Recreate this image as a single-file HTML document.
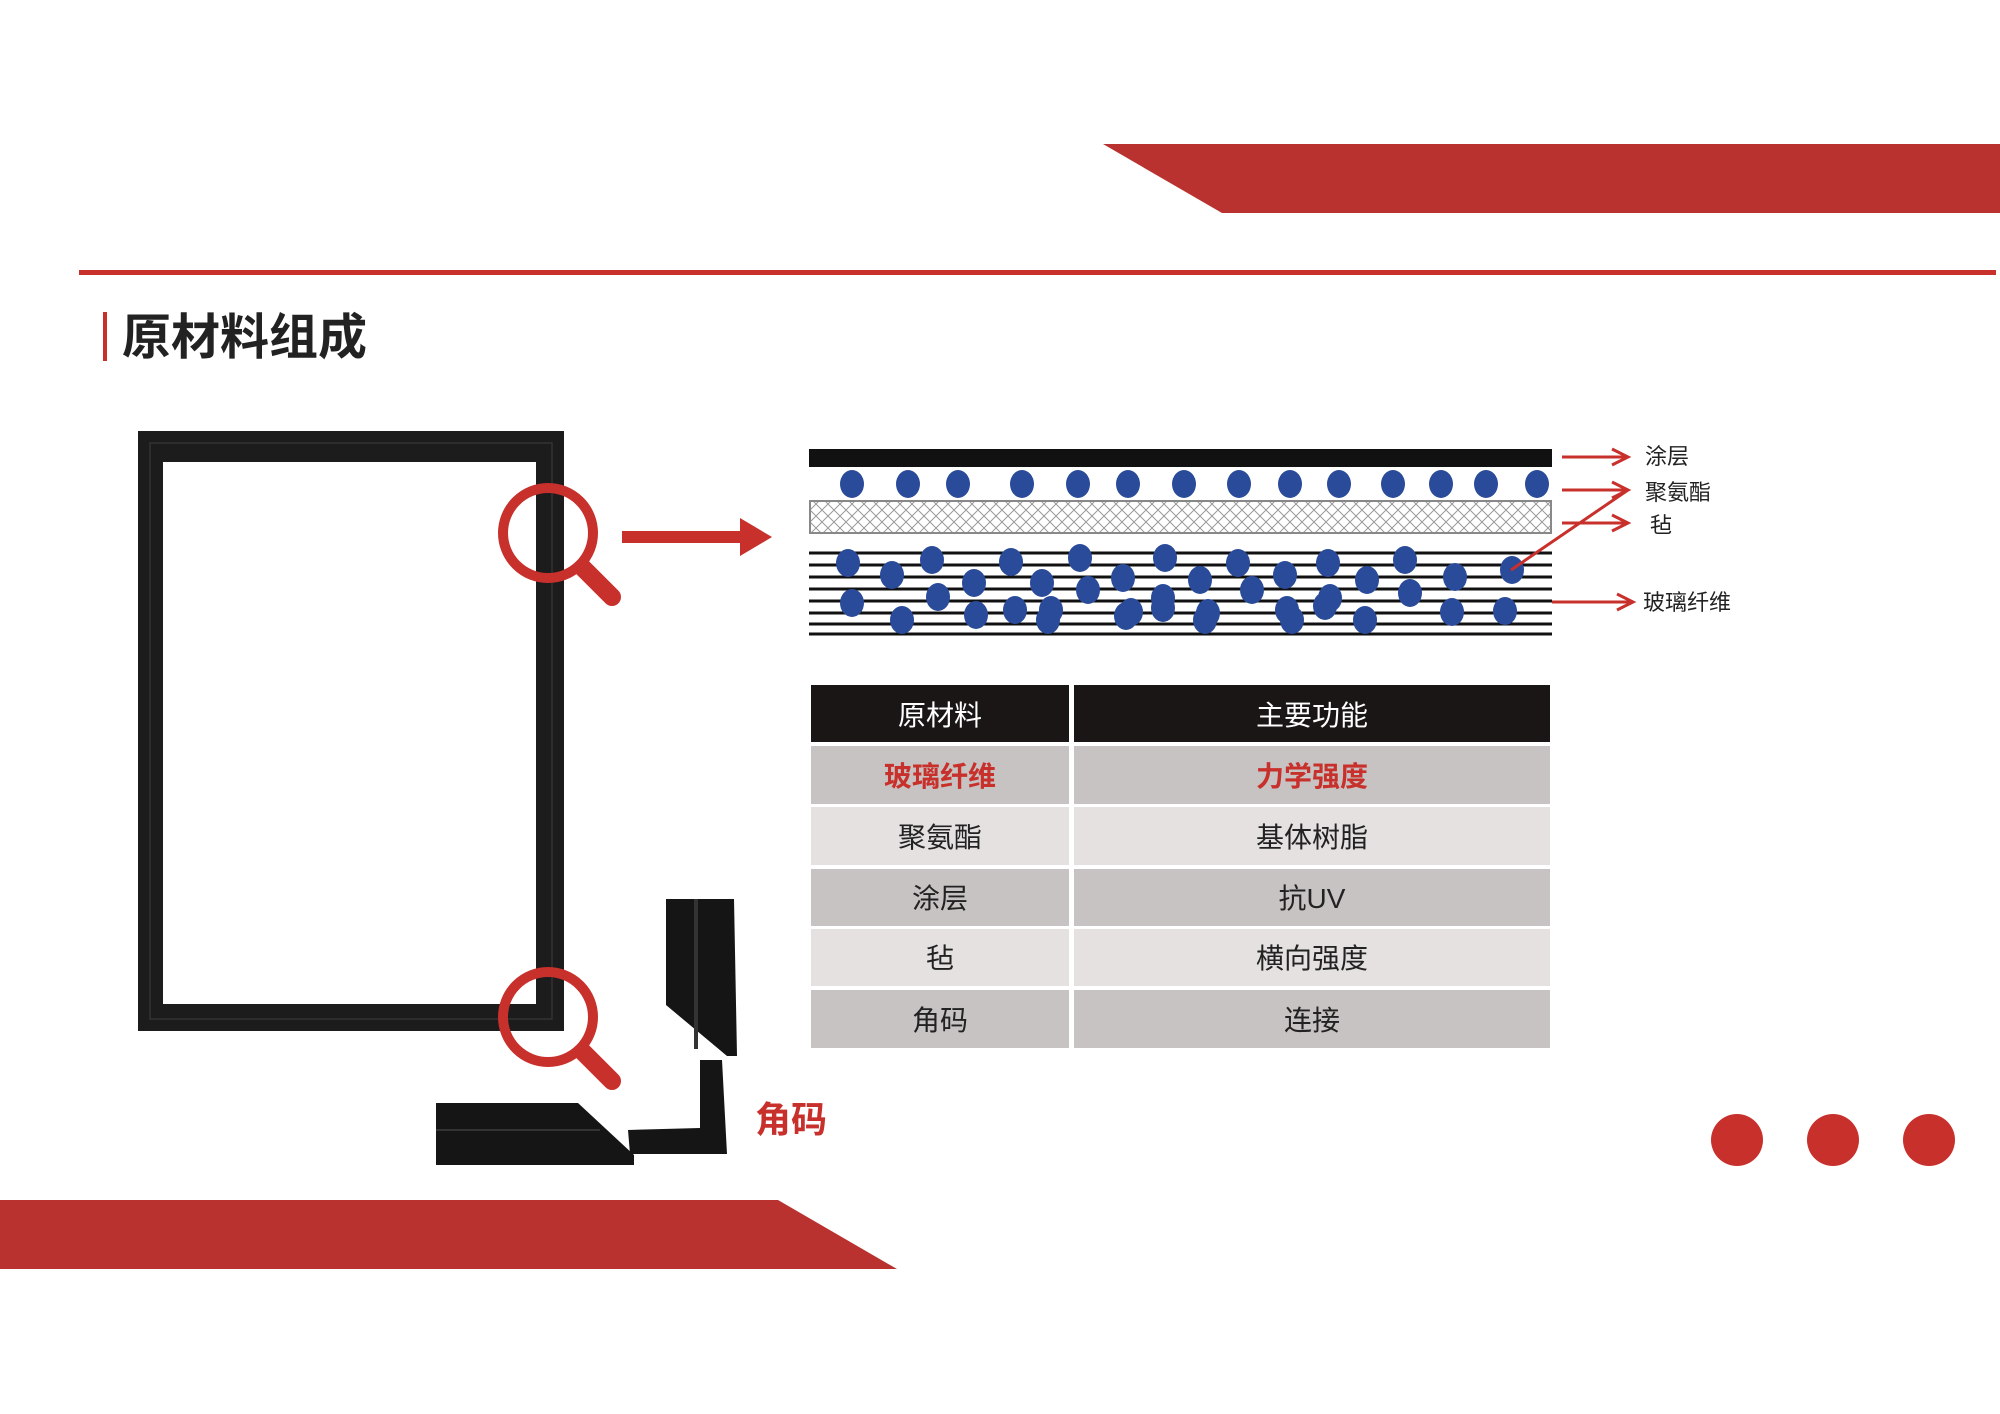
<!DOCTYPE html>
<html><head><meta charset="utf-8"><style>
html,body{margin:0;padding:0;background:#fff}
svg{display:block}
text{font-family:"Liberation Sans","Noto Sans CJK SC",sans-serif}
</style></head><body>
<svg width="2000" height="1414" viewBox="0 0 2000 1414" xmlns="http://www.w3.org/2000/svg">
<defs>
<pattern id="mesh" width="12" height="12" patternUnits="userSpaceOnUse">
<path d="M0 0L12 12M12 0L0 12" stroke="#9a9a9a" stroke-width="1"/>
</pattern>
<ellipse id="ov" rx="12" ry="14" fill="#2a4a9a"/>
</defs>
<polygon points="1103,144 2000,144 2000,213 1222,213" fill="#b93230"/>
<rect x="79" y="270" width="1917" height="5" fill="#c8302c"/>
<rect x="103" y="312" width="4" height="49" fill="#c8302c"/>
<text x="122" y="354" font-size="49" font-weight="bold" fill="#222">原材料组成</text>

<rect x="138" y="431" width="426" height="600" fill="#1c1c1c"/>
<rect x="163" y="462" width="373" height="542" fill="#fff"/>
<rect x="150" y="443" width="402" height="576" fill="none" stroke="#333" stroke-width="1.5"/>
<g fill="none" stroke="#c8302c">
<circle cx="548" cy="533" r="45" stroke-width="10"/>
<line x1="583" y1="568" x2="612" y2="597" stroke-width="18" stroke-linecap="round"/>
<circle cx="548" cy="1017" r="45" stroke-width="10"/>
<line x1="583" y1="1052" x2="612" y2="1081" stroke-width="18" stroke-linecap="round"/>
</g>
<rect x="622" y="531" width="120" height="12" fill="#c8302c"/>
<polygon points="740,518 772,537 740,556" fill="#c8302c"/>

<polygon points="666,899 734,899 737,1056 727,1056 666,1005" fill="#151515"/>
<rect x="694" y="899" width="4" height="150" fill="#333"/>
<polygon points="700,1060 722,1060 727,1154 630,1154 628,1130 700,1128" fill="#151515"/>
<polygon points="436,1103 578,1103 634,1155 634,1165 436,1165" fill="#151515"/>
<line x1="436" y1="1130" x2="600" y2="1130" stroke="#333" stroke-width="2"/>
<text x="755" y="1132" font-size="36" font-weight="bold" fill="#c8302c">角码</text>

<rect x="809" y="449" width="743" height="18" fill="#111"/>
<g>
<use href="#ov" x="852" y="484"/><use href="#ov" x="908" y="484"/><use href="#ov" x="958" y="484"/><use href="#ov" x="1022" y="484"/><use href="#ov" x="1078" y="484"/><use href="#ov" x="1128" y="484"/><use href="#ov" x="1184" y="484"/><use href="#ov" x="1239" y="484"/><use href="#ov" x="1290" y="484"/><use href="#ov" x="1339" y="484"/><use href="#ov" x="1393" y="484"/><use href="#ov" x="1441" y="484"/><use href="#ov" x="1486" y="484"/><use href="#ov" x="1537" y="484"/>
</g>
<rect x="810" y="501" width="741" height="32" fill="url(#mesh)" stroke="#888" stroke-width="2"/>
<g stroke="#111" stroke-width="3">
<line x1="809" y1="553" x2="1552" y2="553"/><line x1="809" y1="565" x2="1552" y2="565"/><line x1="809" y1="577" x2="1552" y2="577"/><line x1="809" y1="589" x2="1552" y2="589"/><line x1="809" y1="601" x2="1552" y2="601"/><line x1="809" y1="613" x2="1552" y2="613"/><line x1="809" y1="624" x2="1552" y2="624"/><line x1="809" y1="634" x2="1552" y2="634"/>
</g>
<g>
<use href="#ov" x="848" y="563"/><use href="#ov" x="892" y="575"/><use href="#ov" x="932" y="560"/><use href="#ov" x="1011" y="562"/><use href="#ov" x="1080" y="558"/><use href="#ov" x="1165" y="558"/><use href="#ov" x="1238" y="563"/><use href="#ov" x="1328" y="563"/><use href="#ov" x="1405" y="560"/><use href="#ov" x="1512" y="570"/>
<use href="#ov" x="974" y="583"/><use href="#ov" x="1042" y="583"/><use href="#ov" x="1123" y="578"/><use href="#ov" x="1200" y="580"/><use href="#ov" x="1285" y="575"/><use href="#ov" x="1367" y="580"/><use href="#ov" x="1455" y="577"/>
<use href="#ov" x="938" y="597"/><use href="#ov" x="1088" y="590"/><use href="#ov" x="1163" y="598"/><use href="#ov" x="1252" y="590"/><use href="#ov" x="1330" y="598"/><use href="#ov" x="1410" y="593"/>
<use href="#ov" x="852" y="603"/><use href="#ov" x="1015" y="610"/><use href="#ov" x="1051" y="610"/><use href="#ov" x="1131" y="612"/><use href="#ov" x="1163" y="608"/><use href="#ov" x="1208" y="613"/><use href="#ov" x="1287" y="610"/><use href="#ov" x="1325" y="606"/><use href="#ov" x="1452" y="612"/><use href="#ov" x="1505" y="611"/>
<use href="#ov" x="902" y="620"/><use href="#ov" x="976" y="615"/><use href="#ov" x="1048" y="620"/><use href="#ov" x="1126" y="616"/><use href="#ov" x="1365" y="620"/><use href="#ov" x="1205" y="620"/><use href="#ov" x="1292" y="620"/>
</g>
<g stroke="#c8302c" stroke-width="3" fill="none">
<line x1="1562" y1="457" x2="1625" y2="457"/><polyline points="1612,449 1628,457 1612,465"/>
<line x1="1562" y1="490" x2="1625" y2="490"/><polyline points="1612,482 1628,490 1612,498"/>
<line x1="1562" y1="523" x2="1625" y2="523"/><polyline points="1612,515 1628,523 1612,531"/>
<line x1="1511" y1="570" x2="1628" y2="490"/>
<line x1="1552" y1="602" x2="1630" y2="602"/><polyline points="1617,594 1633,602 1617,610"/>
</g>
<g font-size="22" fill="#222">
<text x="1645" y="464">涂层</text>
<text x="1645" y="500">聚氨酯</text>
<text x="1650" y="533">毡</text>
<text x="1643" y="610">玻璃纤维</text>
</g>

<rect x="811" y="685" width="258" height="57" fill="#1a1616"/>
<rect x="1074" y="685" width="476" height="57" fill="#1a1616"/>
<rect x="811" y="746" width="258" height="58" fill="#c7c3c2"/><rect x="1074" y="746" width="476" height="58" fill="#c7c3c2"/>
<rect x="811" y="807" width="258" height="58" fill="#e4e1e0"/><rect x="1074" y="807" width="476" height="58" fill="#e4e1e0"/>
<rect x="811" y="869" width="258" height="57" fill="#c7c3c2"/><rect x="1074" y="869" width="476" height="57" fill="#c7c3c2"/>
<rect x="811" y="929" width="258" height="57" fill="#e4e1e0"/><rect x="1074" y="929" width="476" height="57" fill="#e4e1e0"/>
<rect x="811" y="990" width="258" height="58" fill="#c7c3c2"/><rect x="1074" y="990" width="476" height="58" fill="#c7c3c2"/>
<g font-size="28" text-anchor="middle" fill="#222">
<text x="940" y="725" fill="#fff">原材料</text><text x="1312" y="725" fill="#fff">主要功能</text>
<text x="940" y="786" fill="#c8302c" font-weight="bold">玻璃纤维</text><text x="1312" y="786" fill="#c8302c" font-weight="bold">力学强度</text>
<text x="940" y="847">聚氨酯</text><text x="1312" y="847">基体树脂</text>
<text x="940" y="908">涂层</text><text x="1312" y="908">抗UV</text>
<text x="940" y="968">毡</text><text x="1312" y="968">横向强度</text>
<text x="940" y="1030">角码</text><text x="1312" y="1030">连接</text>
</g>

<polygon points="0,1200 778,1200 897,1269 0,1269" fill="#b93230"/>
<circle cx="1737" cy="1140" r="26" fill="#c8302c"/>
<circle cx="1833" cy="1140" r="26" fill="#c8302c"/>
<circle cx="1929" cy="1140" r="26" fill="#c8302c"/>
</svg>
</body></html>
